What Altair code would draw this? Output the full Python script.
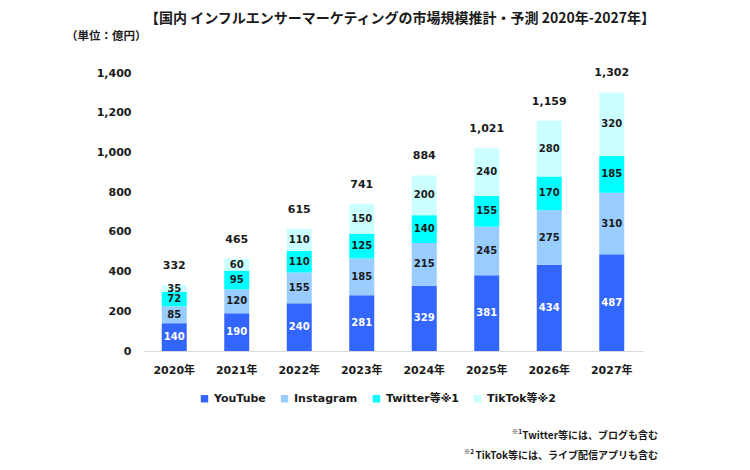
import altair as alt
import pandas as pd

years = ["2020年", "2021年", "2022年", "2023年", "2024年", "2025年", "2026年", "2027年"]
series = ["YouTube", "Instagram", "Twitter等※1", "TikTok等※2"]
youtube = [140, 190, 240, 281, 329, 381, 434, 487]
instagram = [85, 120, 155, 185, 215, 245, 275, 310]
twitter = [72, 95, 110, 125, 140, 155, 170, 185]
tiktok = [35, 60, 110, 150, 200, 240, 280, 320]
totals = [332, 465, 615, 741, 884, 1021, 1159, 1302]
colors = ["#3366FF", "#99CCFF", "#00FFFF", "#CCFFFF"]
text_colors = ["#FFFFFF", "#1A1A1A", "#1A1A1A", "#1A1A1A"]
y_ticks = [0, 200, 400, 600, 800, 1000, 1200, 1400]

title_text = "【国内 インフルエンサーマーケティングの市場規模推計・予測 2020年-2027年】"
unit_text = "（単位：億円）"
note1 = "Twitter等には、ブログも含む"
note2 = "TikTok等には、ライブ配信アプリも含む"
mark1 = "※1"
mark2 = "※2"

FONT = "DejaVu Sans, Noto Sans CJK JP"
JFONT = "Noto Sans CJK JP"

rows = []
for i, y in enumerate(years):
    for j, (s, vals) in enumerate(zip(series, [youtube, instagram, twitter, tiktok])):
        rows.append({"year": y, "series": s, "value": vals[i], "order": j,
                     "tcolor": text_colors[j]})
df = pd.DataFrame(rows)
tot_df = pd.DataFrame({"year": years, "total": totals})

yscale = alt.Scale(domain=[0, 1400], nice=False)
xscale = alt.Scale(domain=years, paddingInner=0, paddingOuter=0)
xaxis = alt.Axis(labelAngle=0, ticks=False, domainColor="#D9D9D9",
                 labelFont=FONT, labelFontWeight="bold", labelFontSize=11,
                 labelPadding=13, labelColor="#1A1A1A", title=None)
yaxis = alt.Axis(values=y_ticks, format=",.0f", labelOverlap=False,
                 grid=False, ticks=False, domain=False,
                 labelFont=FONT, labelFontWeight="bold", labelFontSize=11,
                 labelPadding=12, labelColor="#1A1A1A", title=None)

bars = alt.Chart(df).mark_bar(size=25).encode(
    x=alt.X("year:N", sort=years, title=None, scale=xscale, axis=xaxis),
    y=alt.Y("value:Q", stack="zero", scale=yscale, title=None, axis=yaxis),
    color=alt.Color("series:N", sort=series,
                    scale=alt.Scale(domain=series, range=colors),
                    legend=alt.Legend(title=None, orient="none", direction="horizontal",
                                      legendX=56, legendY=320, symbolType="square",
                                      symbolSize=55, symbolStrokeWidth=0,
                                      labelFont=FONT, labelFontWeight="bold",
                                      labelFontSize=11, labelColor="#1A1A1A",
                                      columnPadding=13, labelOffset=4)),
    order=alt.Order("order:Q", sort="ascending"),
)

seg_text = alt.Chart(df).transform_stack(
    stack="value", groupby=["year"], as_=["v0", "v1"],
    sort=[alt.SortField("order", order="ascending")]
).transform_calculate(
    mid="(datum.v0 + datum.v1) / 2"
).mark_text(font=FONT, fontSize=10, fontWeight="bold", baseline="middle").encode(
    x=alt.X("year:N", sort=years, title=None, scale=xscale, axis=xaxis),
    y=alt.Y("mid:Q", scale=yscale, title=None, axis=yaxis),
    text=alt.Text("value:Q"),
    color=alt.Color("tcolor:N", scale=None),
)

tot_text = alt.Chart(tot_df).mark_text(font=FONT, fontSize=11, fontWeight="bold",
                                       baseline="middle", dy=-19, color="#1A1A1A").encode(
    x=alt.X("year:N", sort=years, title=None, scale=xscale, axis=xaxis),
    y=alt.Y("total:Q", scale=yscale, title=None, axis=yaxis),
    text=alt.Text("total:Q", format=","),
)

def label(txt, x, y, size=12, align="left", weight="bold"):
    return alt.Chart(pd.DataFrame({"t": [txt]})).mark_text(
        font=JFONT, fontSize=size, fontWeight=weight, align=align,
        baseline="middle", color="#1A1A1A").encode(
        x=alt.value(x), y=alt.value(y), text="t:N")

title = label(title_text, 257, -54, size=14, align="center")
unit = label(unit_text, -77, -36, size=11.5)
n1 = label(note1, 515, 363, size=10, align="right")
n2 = label(note2, 515, 383, size=10, align="right")
m1 = label(mark1, 379, 359, size=6.5, align="right")
m2 = label(mark2, 331, 379, size=6.5, align="right")

chart = alt.layer(bars, seg_text, tot_text, title, unit, n1, n2, m1, m2).properties(
    width=500, height=278,
    autosize=alt.AutoSizeParams(type="none"),
    padding={"left": 135, "top": 65, "right": 99, "bottom": 110},
).configure_view(stroke=None).resolve_scale(color="independent")

chart.save("out.html", embed_options={"renderer": "svg", "actions": False})
